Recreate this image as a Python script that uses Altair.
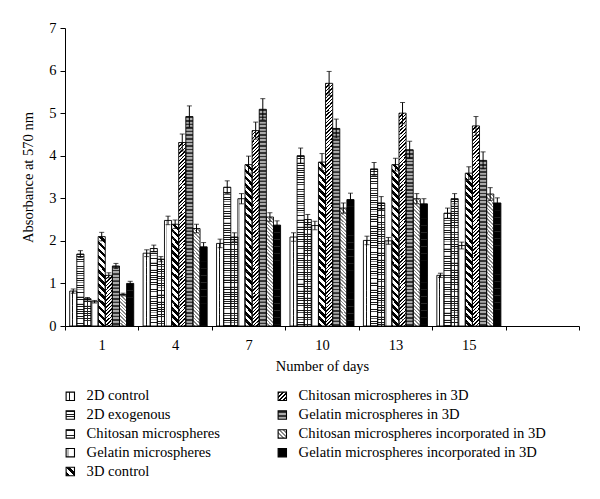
import altair as alt
import pandas as pd

days = ["1", "4", "7", "10", "13", "15"]
series = [
    "2D control",
    "2D exogenous",
    "Chitosan microspheres",
    "Gelatin microspheres",
    "3D control",
    "Chitosan microspheres in 3D",
    "Gelatin microspheres in 3D",
    "Chitosan microspheres incorporated in 3D",
    "Gelatin microspheres incorporated in 3D",
]
values = {
    "2D control": [0.82, 1.71, 1.94, 2.09, 2.01, 1.19],
    "2D exogenous": [1.69, 1.82, 3.26, 4.00, 3.69, 2.65],
    "Chitosan microspheres": [0.64, 1.57, 2.09, 2.50, 2.89, 2.99],
    "Gelatin microspheres": [0.57, 2.48, 2.99, 2.36, 2.00, 1.89],
    "3D control": [2.10, 2.39, 3.79, 3.85, 3.79, 3.59],
    "Chitosan microspheres in 3D": [1.19, 4.31, 4.59, 5.70, 5.00, 4.70],
    "Gelatin microspheres in 3D": [1.41, 4.92, 5.09, 4.64, 4.14, 3.89],
    "Chitosan microspheres incorporated in 3D": [0.74, 2.29, 2.56, 2.77, 2.99, 3.10],
    "Gelatin microspheres incorporated in 3D": [1.00, 1.86, 2.37, 2.97, 2.87, 2.89],
}
errors = {
    "2D control": [0.05, 0.08, 0.10, 0.10, 0.10, 0.05],
    "2D exogenous": [0.08, 0.08, 0.15, 0.18, 0.15, 0.12],
    "Chitosan microspheres": [0.03, 0.06, 0.10, 0.12, 0.15, 0.12],
    "Gelatin microspheres": [0.03, 0.10, 0.12, 0.10, 0.08, 0.08],
    "3D control": [0.10, 0.10, 0.20, 0.20, 0.15, 0.15],
    "Chitosan microspheres in 3D": [0.06, 0.20, 0.20, 0.28, 0.25, 0.22],
    "Gelatin microspheres in 3D": [0.06, 0.25, 0.25, 0.22, 0.20, 0.20],
    "Chitosan microspheres incorporated in 3D": [0.03, 0.10, 0.10, 0.12, 0.12, 0.15],
    "Gelatin microspheres incorporated in 3D": [0.05, 0.10, 0.10, 0.15, 0.12, 0.12],
}

rows = []
for s in series:
    for d, v, e in zip(days, values[s], errors[s]):
        rows.append({"day": d, "series": s, "value": v, "err": e})
df = pd.DataFrame(rows)


def stripes(n, duty, on, off):
    st = []
    for i in range(n):
        a = i / n
        b = a + duty / n
        c = (i + 1) / n
        st += [(a, on), (b, on), (b, off), (c, off)]
    return st


def grad(x1, y1, x2, y2, stops):
    s = ",".join("{offset:%.4f,color:'%s'}" % (o, c) for o, c in stops)
    return {"expr": "{gradient:'linear',x1:%g,y1:%g,x2:%g,y2:%g,stops:[%s]}" % (x1, y1, x2, y2, s)}


patterns = {
    "2D control": grad(0, 0, 1, 0, [(0, "white"), (0.36, "white"), (0.36, "#111"), (0.5, "#111"), (0.5, "white"), (1, "white")]),
    "2D exogenous": grad(0, 0, 0, 1, stripes(3, 0.34, "#1a1a1a", "white")),
    "Chitosan microspheres": grad(0, 0, 0, 1, stripes(3, 0.34, "#1a1a1a", "white")),
    "Gelatin microspheres": grad(0, 0, 1, 0, [(0, "white"), (0.15, "white"), (0.15, "#bbb"), (0.3, "#bbb"), (0.3, "white"), (1, "white")]),
    "3D control": grad(0, 1, 1, 0, stripes(2, 0.5, "black", "white")),
    "Chitosan microspheres in 3D": grad(0, 0, 1, 1, stripes(4, 0.42, "black", "white")),
    "Gelatin microspheres in 3D": grad(0, 0, 0, 1, stripes(2, 0.45, "#333", "#aaa")),
    "Chitosan microspheres incorporated in 3D": grad(0, 1, 1, 0, stripes(4, 0.45, "#888", "white")),
    "Gelatin microspheres incorporated in 3D": "black",
}
clear = "rgba(0,0,0,0)"
overlay = {s: "transparent" for s in series}
overlay["Chitosan microspheres"] = grad(0, 0, 1, 0, [(0, clear), (0.45, clear), (0.45, "#222"), (0.6, "#222"), (0.6, clear), (1, clear)])

FONT = "Liberation Serif"
SEG = 0.1671  # segment height (square tiles for patterns)

x_enc = alt.X(
    "day:N",
    scale=alt.Scale(domain=days + [""], paddingInner=0, paddingOuter=0),
    axis=alt.Axis(title="Number of days", labelAngle=0, tickBand="extent", tickSize=4,
                  labelPadding=8, titlePadding=8),
)
xo_enc = alt.XOffset("series:N", scale=alt.Scale(domain=series, paddingInner=0, paddingOuter=0.66))
yscale = alt.Scale(domain=[0, 7], nice=False, zero=True)
yaxis = alt.Axis(title="Absorbance at 570 nm", values=list(range(8)), grid=False, tickSize=5,
                 labelPadding=4, titlePadding=13)

base = alt.Chart(df)

segs = base.transform_calculate(
    k="sequence(0, ceil(datum.value / %f))" % SEG
).transform_flatten(["k"]).transform_calculate(
    hi="datum.value - datum.k * %f" % SEG,
    lo="datum.value - datum.k * %f - %f" % (SEG, SEG * 1.03),
).mark_bar(clip=True).encode(
    x=x_enc,
    xOffset=xo_enc,
    y=alt.Y("hi:Q", scale=yscale, axis=yaxis, title="Absorbance at 570 nm"),
    y2="lo:Q",
    fill=alt.Fill(
        "series:N",
        scale=alt.Scale(domain=series, range=[patterns[s] for s in series]),
        legend=alt.Legend(
            title=None, orient="none", legendX=-2, legendY=361, columns=2, columnPadding=55,
            rowPadding=3.8, symbolType="square", symbolSize=70, symbolStrokeColor="black",
            symbolStrokeWidth=1.1, labelFont=FONT, labelFontSize=14.6, labelColor="black",
            labelOffset=9, labelLimit=400,
        ),
    ),
)

outline = base.mark_bar(stroke="black", strokeWidth=0.9).encode(
    x=x_enc,
    xOffset=xo_enc,
    y=alt.Y("value:Q", scale=yscale, axis=yaxis, title="Absorbance at 570 nm"),
    color=alt.Color("series:N", scale=alt.Scale(domain=series, range=[overlay[s] for s in series]), legend=None),
)

errs = base.transform_calculate(up="datum.value + datum.err", dn="datum.value - datum.err")

err_rule = errs.mark_rule(color="black", strokeWidth=1).encode(
    x=x_enc, xOffset=xo_enc,
    y=alt.Y("dn:Q", scale=yscale, axis=yaxis, title="Absorbance at 570 nm"),
    y2="up:Q",
)
cap_up = errs.mark_tick(color="black", size=5, thickness=1, orient="horizontal").encode(
    x=x_enc, xOffset=xo_enc,
    y=alt.Y("up:Q", scale=yscale, axis=yaxis, title="Absorbance at 570 nm"),
)
cap_dn = errs.mark_tick(color="black", size=5, thickness=1, orient="horizontal").encode(
    x=x_enc, xOffset=xo_enc,
    y=alt.Y("dn:Q", scale=yscale, axis=yaxis, title="Absorbance at 570 nm"),
)

chart = alt.layer(segs, outline, err_rule, cap_up, cap_dn).resolve_scale(
    fill="independent", color="independent"
).properties(
    width=514,
    height=298,
    autosize=alt.AutoSizeParams(type="none"),
    padding={"left": 57, "top": 20, "right": 13, "bottom": 165},
).configure_axis(
    labelFont=FONT, labelFontSize=14.5, labelColor="black",
    titleFont=FONT, titleFontSize=14.5, titleFontWeight="normal", titleColor="black",
    domainColor="black", tickColor="black", domainWidth=1,
).configure_view(strokeWidth=0)

chart.save("out.html", embed_options={"renderer": "svg", "actions": False})
